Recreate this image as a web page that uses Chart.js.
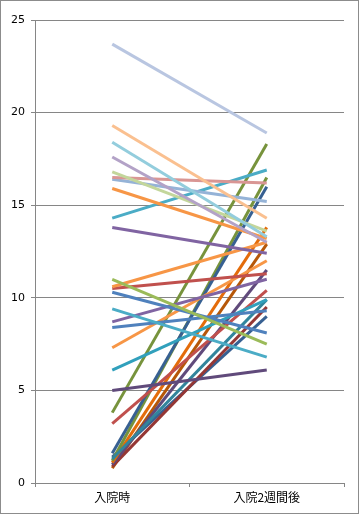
<!DOCTYPE html>
<html><head><meta charset="utf-8">
<script src="https://cdn.jsdelivr.net/npm/chart.js@4"></script>
<style>html,body{margin:0;padding:0;background:#fff}#wrap{width:359px;height:514px}</style>
</head><body><div id="wrap"><canvas id="c" width="359" height="514"></canvas></div>
<script>
const categories = ["入院時", "入院2週間後"];
const yTicks = [0, 5, 10, 15, 20, 25];
const atAdmission = [23.7, 19.3, 18.4, 17.6, 16.8, 16.5, 16.4, 15.9, 14.3, 13.8, 11.0, 10.6, 10.5, 10.3, 9.4, 8.7, 8.4, 7.3, 6.1, 5.0, 3.8, 3.2, 1.6, 1.3, 1.2, 1.1, 1.0, 0.9, 1.4, 0.8];
const afterTwoWeeks = [18.9, 14.3, 13.3, 13.0, 13.6, 16.2, 15.2, 13.2, 16.9, 12.4, 7.5, 13.0, 11.3, 8.1, 6.8, 11.0, 9.3, 12.0, 9.9, 6.1, 18.3, 10.4, 16.0, 9.9, 16.5, 13.8, 11.5, 9.5, 9.0, 12.9];
const seriesColors = ["#B9C6E1","#FAC090","#93CDDD","#B3A2C7","#C3D69B","#D99694","#95B3D7","#F79646","#4BACC6","#8064A2","#9BBB59","#F79646","#C0504D","#4F81BD","#4BACC6","#8064A2","#4F81BD","#F79646","#31A0BC","#604A7B","#77933C","#C0504D","#376092","#31859C","#77933C","#E46C0A","#604A7B","#953735","#376092","#B65708"];

const datasets = atAdmission.map((v, i) => ({
  label: "S" + (i + 1),
  data: [v, afterTwoWeeks[i]],
  borderColor: seriesColors[i],
  backgroundColor: seriesColors[i],
  borderWidth: 3,
  pointRadius: 0,
  tension: 0,
  fill: false
}));

const borderPlugin = {
  id: 'outerBorder',
  afterDraw(chart) {
    const ctx = chart.ctx;
    ctx.save();
    ctx.strokeStyle = '#8c8c8c';
    ctx.lineWidth = 1;
    ctx.strokeRect(0.5, 0.5, chart.width - 1, chart.height - 1);
    ctx.restore();
  }
};

new Chart(document.getElementById('c'), {
  type: 'line',
  data: { labels: categories, datasets },
  plugins: [borderPlugin],
  options: {
    responsive: false,
    animation: false,
    layout: { padding: { left: 0, right: 15, top: 20, bottom: 0 } },
    plugins: { legend: { display: false }, tooltip: { enabled: false } },
    scales: {
      x: {
        offset: true,
        grid: { display: true, drawOnChartArea: false, drawTicks: true, tickLength: 4, offset: true, color: '#868686' },
        border: { display: true, color: '#868686', width: 1 },
        ticks: { color: '#000', font: { family: "'Noto Sans CJK JP'", size: 12 }, padding: 3 },
        afterFit(s) { s.height = 31; }
      },
      y: {
        min: 0, max: 25,
        afterBuildTicks(s) { s.ticks = yTicks.map(v => ({ value: v })); },
        grid: { color: '#868686', tickLength: 4, drawTicks: true },
        border: { display: true, color: '#868686', width: 1 },
        ticks: { color: '#000', font: { family: "'DejaVu Sans'", size: 11 }, padding: 6 },
        afterFit(s) { s.width = 35; }
      }
    }
  }
});
</script></body></html>
